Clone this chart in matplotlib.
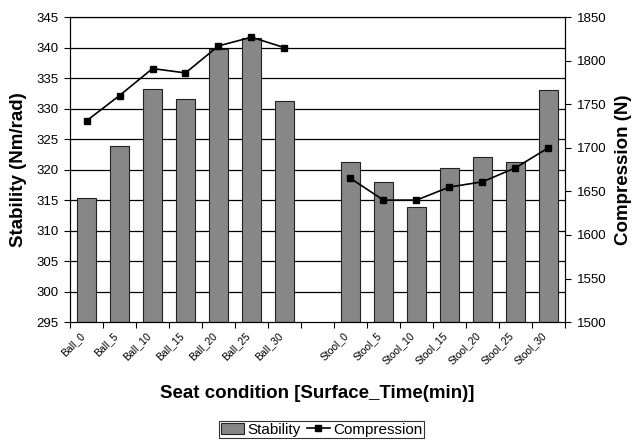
import numpy as np
import matplotlib
matplotlib.use("Agg")
import matplotlib.pyplot as plt
from matplotlib.transforms import ScaledTranslation

plt.rcParams['font.family'] = ['Liberation Sans', 'DejaVu Sans']

categories = ["Ball_0", "Ball_5", "Ball_10", "Ball_15", "Ball_20", "Ball_25", "Ball_30",
              "",
              "Stool_0", "Stool_5", "Stool_10", "Stool_15", "Stool_20", "Stool_25", "Stool_30"]
stability = [315.3, 323.8, 333.3, 331.5, 339.8, 341.6, 331.3,
             np.nan,
             321.2, 318.0, 313.8, 320.2, 322.0, 321.3, 333.1]
compression = [1731, 1760, 1791, 1786, 1817, 1827, 1815,
               np.nan,
               1665, 1640, 1640, 1655, 1661, 1677, 1700]

fig = plt.figure(figsize=(6.32, 4.4), dpi=100)
ax = fig.add_axes([0.1108, 0.268, 0.783, 0.693])
ax2 = ax.twinx()

x = np.arange(len(categories))
ax.set_ylim(295, 345)
ax.set_yticks(np.arange(295, 346, 5))
ax.set_xlim(-0.5, len(categories) - 0.5)
for yv in np.arange(300, 346, 5):
    ax.axhline(yv, color='black', lw=0.9, zorder=0)

bars = ax.bar(x, [np.nan if np.isnan(v) else v - 295 for v in stability], bottom=295,
              width=0.58, color='#878787', edgecolor='#222222', linewidth=0.8,
              zorder=2, label='Stability')

ax2.set_ylim(1500, 1850)
ax2.set_yticks(np.arange(1500, 1851, 50))
line, = ax2.plot(x, compression, color='black', lw=1.2, marker='s', markersize=4,
                 label='Compression', zorder=3)

# category boundary ticks, labels at centers
ax.set_xticks(np.arange(-0.5, len(categories), 1.0))
ax.set_xticklabels([])
ax.set_xticks(x, minor=True)
ax.set_xticklabels(categories, minor=True, rotation=45, ha='right', va='top',
                   fontsize=7.5)
shift = ScaledTranslation(-5 / 100, 0, fig.dpi_scale_trans)
for lbl in ax.get_xticklabels(minor=True):
    lbl.set_transform(lbl.get_transform() + shift)
ax.tick_params(axis='x', which='major', direction='out', length=4, width=0.8)
ax.tick_params(axis='x', which='minor', length=0, pad=6)
ax.tick_params(axis='y', direction='out', length=4, width=0.8, labelsize=9.5, pad=4)
ax2.tick_params(axis='y', direction='out', length=4, width=0.8, labelsize=9.5, pad=4.5)

for a in (ax, ax2):
    for s in a.spines.values():
        s.set_linewidth(0.8)
        s.set_color('black')

ax.set_ylabel("Stability (Nm/rad)", fontsize=13.5, fontweight='bold')
ax.yaxis.set_label_coords(-0.087, 0.5)
ax2.set_ylabel("Compression (N)", fontsize=13.5, fontweight='bold')
ax2.yaxis.set_label_coords(1.101, 0.5)
ax.set_xlabel("Seat condition [Surface_Time(min)]", fontsize=13.5, fontweight='bold')
ax.xaxis.set_label_coords(0.5, -0.205)

leg = fig.legend([bars, line], ['Stability', 'Compression'], loc='lower center',
                 bbox_to_anchor=(0.509, 0.004), ncol=2, fontsize=11, frameon=True,
                 fancybox=False, edgecolor='black', borderpad=0.1, handlelength=1.5,
                 handletextpad=0.25, columnspacing=0.4, borderaxespad=0.0)
leg.get_frame().set_linewidth(0.8)

fig.savefig("out.png", dpi=100)
